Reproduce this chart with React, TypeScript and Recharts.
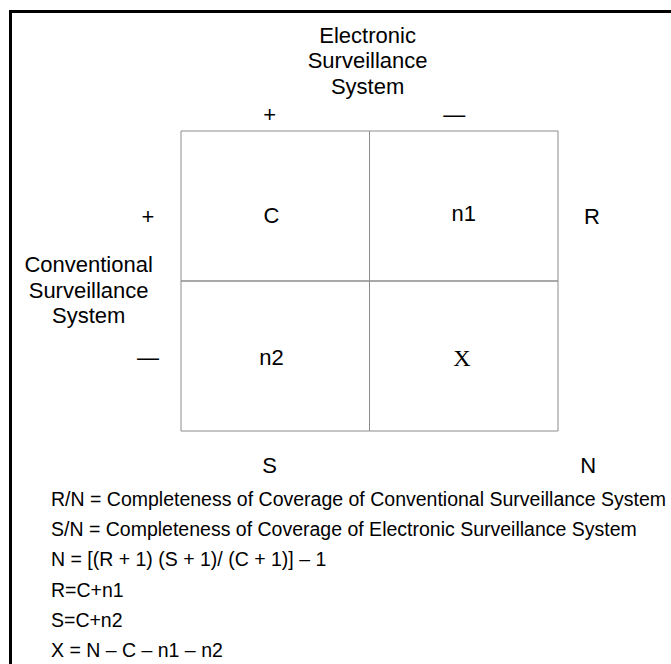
import { ScatterChart, Scatter, XAxis, YAxis, ReferenceArea } from 'recharts'

// 2x2 capture-recapture table: rows = conventional system, columns = electronic system
const columnSigns = ['+', '—']
const rowSigns = ['+', '—']

const cellLabels = [
  { label: 'C', x: 0.48, y: 1.44 },
  { label: 'n1', x: 1.5, y: 1.45 },
  { label: 'n2', x: 0.48, y: 0.49 },
  { label: 'X', x: 1.49, y: 0.49 },
]

const columnHeaderPos = [
  { x: 0.47, y: 2.11 },
  { x: 1.45, y: 2.11 },
]
const rowHeaderPos = [
  { x: -0.175, y: 1.43 },
  { x: -0.175, y: 0.49 },
]

const totals = [
  { label: 'R', x: 2.18, y: 1.43 },
  { label: 'S', x: 0.47, y: -0.23 },
  { label: 'N', x: 2.16, y: -0.23 },
]

const titles = [
  { lines: ['Electronic', 'Surveillance', 'System'], x: 0.99, y: 2.47 },
  { lines: ['Conventional', 'Surveillance', 'System'], x: -0.49, y: 0.94 },
]

const formulas = [
  'R/N = Completeness of Coverage of Conventional Surveillance System',
  'S/N = Completeness of Coverage of Electronic Surveillance System',
  'N = [(R + 1) (S + 1)/ (C + 1)] – 1',
  'R=C+n1',
  'S=C+n2',
  'X = N – C – n1 – n2',
]

const gridCells = [
  { x1: 0, x2: 1, y1: 1, y2: 2 },
  { x1: 1, x2: 2, y1: 1, y2: 2 },
  { x1: 0, x2: 1, y1: 0, y2: 1 },
  { x1: 1, x2: 2, y1: 0, y2: 1 },
]

const FONT = '"Liberation Sans", Arial, Helvetica, sans-serif'
const SIZE = 22

const headerData = [
  ...columnSigns.map((s, i) => ({ label: s, ...columnHeaderPos[i] })),
  ...rowSigns.map((s, i) => ({ label: s, ...rowHeaderPos[i] })),
]

function TextMark(props: any) {
  const { cx, cy, payload } = props
  const serif = payload.label === 'X'
  return (
    <text
      x={cx}
      y={cy}
      dy="0.35em"
      textAnchor="middle"
      fontFamily={serif ? '"Liberation Serif", "Times New Roman", serif' : FONT}
      fontSize={serif ? 24 : SIZE}
      fill="#000"
    >
      {payload.label}
    </text>
  )
}

function TitleMark(props: any) {
  const { cx, cy, payload } = props
  const lh = 25.5
  const n = payload.lines.length
  return (
    <text x={cx} y={cy} textAnchor="middle" fontFamily={FONT} fontSize={SIZE} fill="#000">
      {payload.lines.map((l: string, i: number) => (
        <tspan key={i} x={cx} y={cy + (i - (n - 1) / 2) * lh} dy="0.35em">
          {l}
        </tspan>
      ))}
    </text>
  )
}

export default function App() {
  return (
    <div style={{ position: 'absolute', left: 0, top: 0, width: 671, height: 664, background: '#fff', overflow: 'hidden' }}>
      <div
        style={{
          position: 'absolute',
          left: 9,
          top: 10,
          width: 700,
          height: 700,
          borderLeft: '3px solid #000',
          borderTop: '3px solid #000',
        }}
      />
      <div style={{ position: 'absolute', left: 0, top: 0 }}>
        <ScatterChart width={671} height={664} margin={{ top: 56, right: 37.6, bottom: 158, left: 30.2 }}>
          <XAxis type="number" dataKey="x" domain={[-0.8, 2.4]} hide />
          <YAxis type="number" dataKey="y" domain={[-0.5, 2.5]} hide />
          {gridCells.map((c, i) => (
            <ReferenceArea key={i} {...c} fill="none" stroke="#8c8c8c" strokeWidth={1} ifOverflow="visible" />
          ))}
          <Scatter data={cellLabels} shape={TextMark} isAnimationActive={false} />
          <Scatter data={headerData} shape={TextMark} isAnimationActive={false} />
          <Scatter data={totals} shape={TextMark} isAnimationActive={false} />
          <Scatter data={titles} shape={TitleMark} isAnimationActive={false} />
        </ScatterChart>
      </div>
      <div style={{ position: 'absolute', left: 51, top: 484, fontFamily: FONT, fontSize: 19.5, color: '#000' }}>
        {formulas.map((f, i) => (
          <div key={i} style={{ height: 30.2, lineHeight: '30px', whiteSpace: 'nowrap' }}>
            {f}
          </div>
        ))}
      </div>
    </div>
  )
}
